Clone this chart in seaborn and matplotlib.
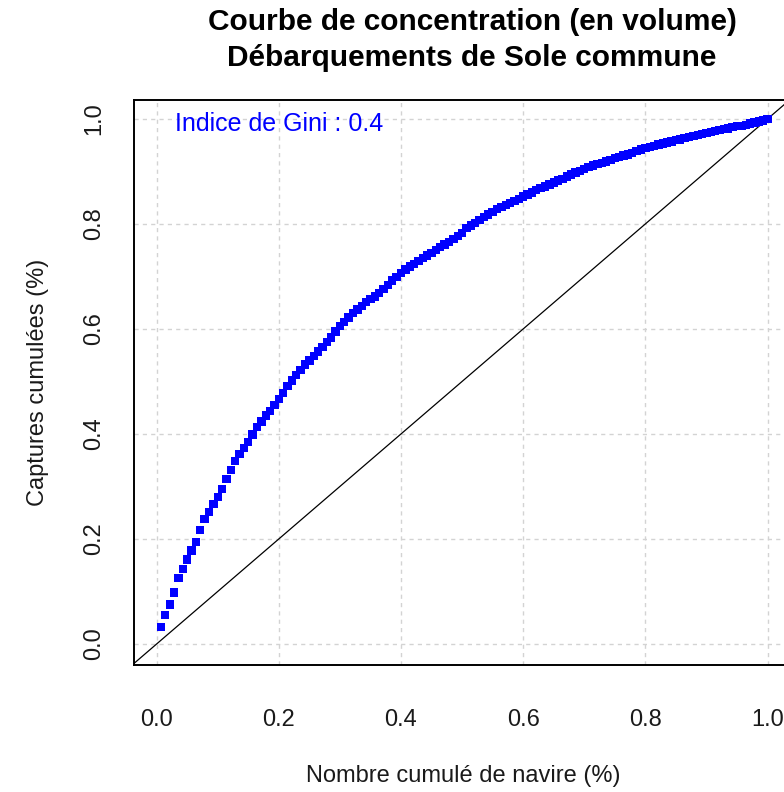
import numpy as np
import pandas as pd
import matplotlib
matplotlib.use("Agg")
import matplotlib.pyplot as plt
import seaborn as sns

# Cumulative share of catches (sorted vessels)
captures_cumulees = [
    0.033, 0.055, 0.075, 0.098, 0.126, 0.143, 0.161, 0.178, 0.194, 0.217,
    0.238, 0.252, 0.267, 0.280, 0.295, 0.314, 0.331, 0.348, 0.362, 0.373,
    0.385, 0.399, 0.413, 0.424, 0.435, 0.444, 0.455, 0.466, 0.478, 0.491,
    0.502, 0.512, 0.522, 0.532, 0.540, 0.548, 0.557, 0.566, 0.575, 0.584,
    0.595, 0.605, 0.613, 0.622, 0.630, 0.637, 0.644, 0.651, 0.657, 0.662,
    0.668, 0.676, 0.684, 0.692, 0.699, 0.706, 0.713, 0.719, 0.724, 0.730,
    0.735, 0.740, 0.745, 0.750, 0.756, 0.761, 0.766, 0.771, 0.777, 0.783,
    0.792, 0.797, 0.802, 0.808, 0.813, 0.818, 0.823, 0.828, 0.832, 0.836,
    0.840, 0.844, 0.848, 0.852, 0.856, 0.860, 0.864, 0.868, 0.871, 0.875,
    0.879, 0.883, 0.886, 0.890, 0.894, 0.898, 0.901, 0.904, 0.908, 0.911,
    0.914, 0.916, 0.919, 0.922, 0.925, 0.927, 0.930, 0.932, 0.935, 0.939,
    0.942, 0.945, 0.947, 0.949, 0.951, 0.953, 0.955, 0.957, 0.960, 0.961,
    0.963, 0.965, 0.967, 0.969, 0.971, 0.973, 0.975, 0.977, 0.979, 0.981,
    0.982, 0.984, 0.986, 0.987, 0.989, 0.991, 0.993, 0.995, 0.997, 1.000,
]
n_navires = len(captures_cumulees)
rang_navire = list(range(1, n_navires + 1))
navires_cumules = [r / n_navires for r in rang_navire]

tick_values = [0.0, 0.2, 0.4, 0.6, 0.8, 1.0]
tick_labels = ["0.0", "0.2", "0.4", "0.6", "0.8", "1.0"]

titre = "Courbe de concentration (en volume)\nDébarquements de Sole commune"
xlabel = "Nombre cumulé de navire (%)"
ylabel = "Captures cumulées (%)"
gini_text = "Indice de Gini : 0.4"

df = pd.DataFrame({"x": navires_cumules, "y": captures_cumulees})

sns.set_style("white")
plt.rcParams["font.family"] = ["Liberation Sans", "DejaVu Sans"]

W, H = 784, 792
fig = plt.figure(figsize=(W / 100, H / 100), dpi=100)
L, R, T, B = 134, 792, 100, 665
ax = fig.add_axes([L / W, 1 - B / H, (R - L) / W, (B - T) / H])

ax.set_xlim(-0.037, 1.04)
ax.set_ylim(-0.040, 1.036)

# grid
for v in tick_values:
    ax.axvline(v, color="#d3d3d3", lw=1.0, ls=(0, (3, 3)), zorder=0)
    ax.axhline(v, color="#d3d3d3", lw=1.0, ls=(0, (3, 3)), zorder=0)

ax.axline((0, 0), slope=1, color="black", lw=0.9, zorder=1)

sns.scatterplot(data=df, x="x", y="y", ax=ax, marker="s", s=36,
                color="#0000FF", edgecolor="none", linewidth=0, zorder=2,
                legend=False)

ax.text(0.2, 0.99, gini_text, color="#0000FF", fontsize=18,
        ha="center", va="center")

ax.set_xticks(tick_values)
ax.set_xticklabels(tick_labels, fontsize=17)
ax.set_yticks(tick_values)
ax.set_yticklabels(tick_labels, fontsize=17, rotation=90, va="center")
ax.tick_params(axis="both", direction="out", length=11, width=1.2,
               color="black", labelcolor="#1a1a1a")
ax.tick_params(axis="x", pad=21)
ax.tick_params(axis="y", pad=10)

ax.set_xlabel(xlabel, fontsize=17, color="#1a1a1a", labelpad=24)
ax.set_ylabel(ylabel, fontsize=17, color="#1a1a1a", labelpad=24)

for s in ax.spines.values():
    s.set_visible(True)
    s.set_color("black")
    s.set_linewidth(1.4)

fig.text(472 / W, 1 - 40 / H, titre, ha="center", va="center",
         fontsize=21.5, fontweight="bold", linespacing=1.34, color="black")

fig.savefig("out.png", dpi=100)
